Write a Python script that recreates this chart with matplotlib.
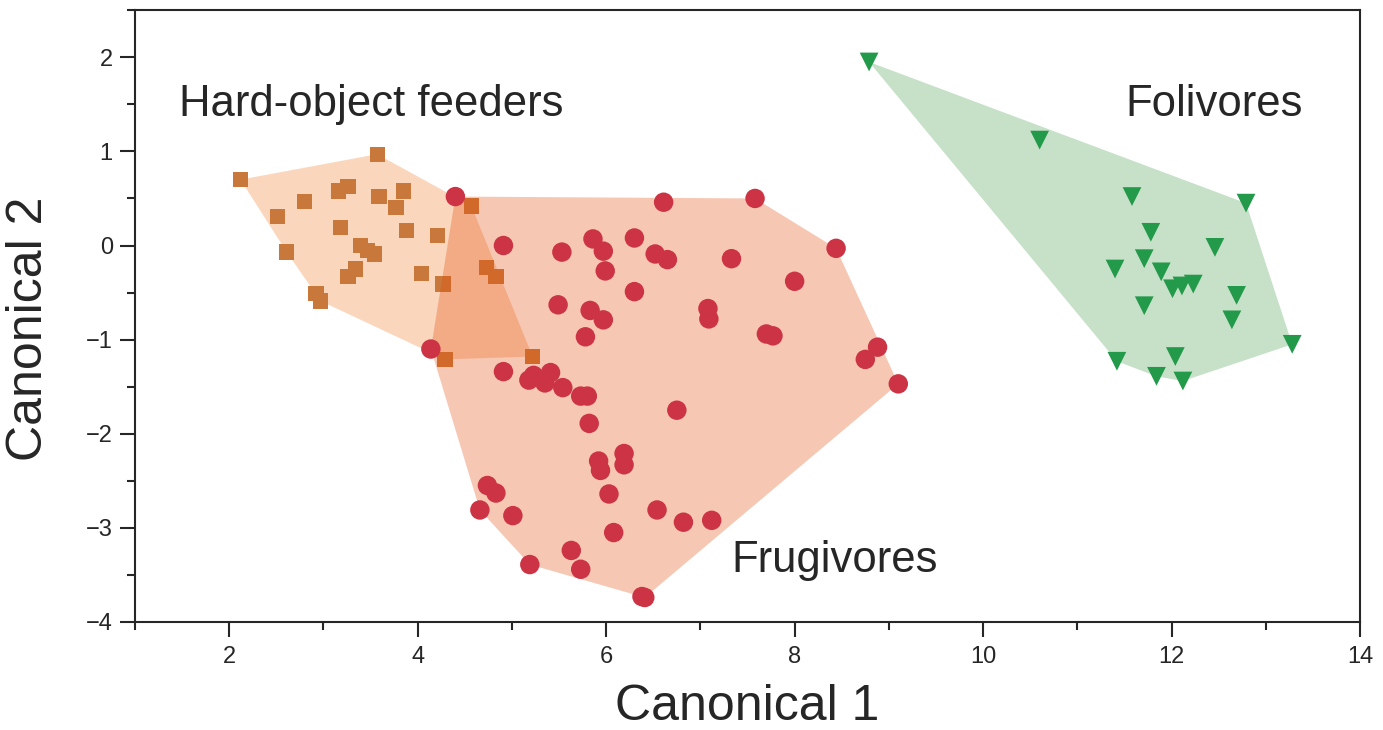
import numpy as np
import matplotlib
matplotlib.use("Agg")
import matplotlib.pyplot as plt
from matplotlib.ticker import MultipleLocator

# Hard-object feeders (squares)
hard_x = [2.12, 3.57, 2.80, 2.51, 3.16, 3.26, 3.59, 3.85, 3.77, 3.18, 3.88, 4.21, 2.61, 3.39,
          3.47, 3.54, 3.34, 3.26, 4.04, 4.27, 2.92, 2.97, 4.57, 4.73, 4.83, 4.29, 5.22]
hard_y = [0.70, 0.97, 0.47, 0.31, 0.58, 0.63, 0.52, 0.58, 0.40, 0.19, 0.16, 0.11, -0.07, 0.00,
          -0.05, -0.09, -0.25, -0.33, -0.30, -0.41, -0.51, -0.59, 0.42, -0.23, -0.33, -1.21, -1.18]

# Frugivores (circles)
frug_x = [4.40, 6.61, 7.58, 8.44, 4.91, 5.53, 5.86, 5.97, 6.30, 6.52, 6.65, 5.99, 7.33, 8.00,
          6.30, 5.49, 5.83, 5.97, 5.78, 7.08, 7.09, 7.70, 7.77, 8.88, 8.75, 9.10, 4.14, 4.91,
          5.18, 5.23, 5.41, 5.35, 5.54, 5.73, 5.80, 6.75, 5.82, 5.92, 5.94, 6.19, 6.19, 6.03,
          4.74, 4.83, 4.66, 5.01, 6.54, 6.82, 7.12, 6.08, 5.19, 5.63, 5.73, 6.38, 6.41]
frug_y = [0.52, 0.46, 0.50, -0.03, 0.00, -0.07, 0.07, -0.06, 0.08, -0.09, -0.15, -0.27, -0.14, -0.38,
          -0.49, -0.63, -0.69, -0.79, -0.97, -0.67, -0.78, -0.94, -0.96, -1.08, -1.21, -1.47, -1.10, -1.34,
          -1.43, -1.38, -1.35, -1.46, -1.51, -1.60, -1.60, -1.75, -1.89, -2.29, -2.39, -2.21, -2.33, -2.64,
          -2.55, -2.63, -2.81, -2.87, -2.81, -2.94, -2.92, -3.05, -3.39, -3.24, -3.44, -3.73, -3.74]

# Folivores (triangles)
foli_x = [8.79, 10.60, 11.58, 12.79, 11.78, 12.46, 11.71, 11.40, 11.89, 12.01, 12.11, 12.23,
          12.69, 11.71, 12.64, 13.28, 11.42, 12.04, 11.84, 12.12]
foli_y = [1.95, 1.12, 0.52, 0.45, 0.14, -0.02, -0.14, -0.25, -0.28, -0.46, -0.43, -0.41,
          -0.53, -0.64, -0.79, -1.05, -1.23, -1.18, -1.39, -1.44]

group_labels = ["Hard-object feeders", "Frugivores", "Folivores"]
x_ticks = [2, 4, 6, 8, 10, 12, 14]
y_ticks = [-4, -3, -2, -1, 0, 1, 2]


def hull(xs, ys):
    pts = sorted(set(zip(xs, ys)))

    def cross(o, a, b):
        return (a[0] - o[0]) * (b[1] - o[1]) - (a[1] - o[1]) * (b[0] - o[0])

    lower, upper = [], []
    for p in pts:
        while len(lower) >= 2 and cross(lower[-2], lower[-1], p) <= 0:
            lower.pop()
        lower.append(p)
    for p in reversed(pts):
        while len(upper) >= 2 and cross(upper[-2], upper[-1], p) <= 0:
            upper.pop()
        upper.append(p)
    h = lower[:-1] + upper[:-1]
    return [p[0] for p in h], [p[1] for p in h]


plt.rcParams['font.family'] = ['Liberation Sans', 'DejaVu Sans']
fig = plt.figure(figsize=(13.83, 7.30), dpi=100)
ax = fig.add_axes([0.0976, 0.148, 0.8858, 0.838])

txt = '#262626'
hx, hy = hull(hard_x, hard_y)
ax.fill(hx, hy, color='#F5A66E', alpha=0.45, lw=0, zorder=1)
ax.scatter(hard_x, hard_y, marker='s', s=11.0**2, color='#C8783A', edgecolors='none', zorder=2)

fx, fy = hull(frug_x, frug_y)
ax.fill(fx, fy, color='#E44805', alpha=0.30, lw=0, zorder=3)
ax.scatter(frug_x, frug_y, marker='o', s=14.0**2, color='#CC3344', edgecolors='none', zorder=4)

gx, gy = hull(foli_x, foli_y)
ax.fill(gx, gy, color='#C7E0C8', lw=0, zorder=1)
ax.scatter(foli_x, foli_y, marker='v', s=13.5**2, color='#23994A', edgecolors='none', zorder=4)

ax.text(1.47, 1.373, group_labels[0], fontsize=31.4, color=txt, ha='left', va='baseline')
ax.text(7.33, -3.466, group_labels[1], fontsize=31.4, color=txt, ha='left', va='baseline')
ax.text(13.39, 1.373, group_labels[2], fontsize=31.4, color=txt, ha='right', va='baseline')

ax.set_xlim(1, 14)
ax.set_ylim(-4, 2.5)
ax.set_xticks(x_ticks)
ax.set_yticks(y_ticks)
ax.set_yticklabels([f"\u2212{abs(v)}" if v < 0 else str(v) for v in y_ticks])
ax.xaxis.set_minor_locator(MultipleLocator(1))
ax.yaxis.set_minor_locator(MultipleLocator(0.5))
ax.tick_params(which='major', direction='out', length=11, width=1.5, labelsize=17,
               colors=txt, pad=5)
ax.tick_params(which='minor', direction='out', length=6, width=1.5, colors=txt)
ax.tick_params(axis='x', which='major', pad=6)
for s in ax.spines.values():
    s.set_linewidth(1.5)
    s.set_color(txt)

ax.set_xlabel("Canonical 1", fontsize=36, color=txt, labelpad=12)
ax.set_ylabel("Canonical 2", fontsize=36, color=txt, labelpad=14)
ax.yaxis.set_label_coords(-0.068, 0.48)

fig.savefig("out.png", dpi=100)
